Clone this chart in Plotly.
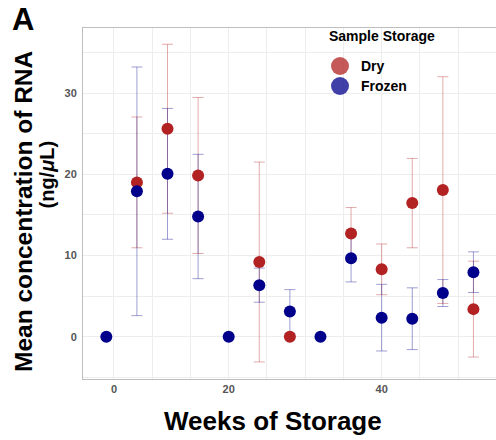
import plotly.graph_objects as go

# ---- data ----
weeks = [4, 8, 12, 16, 20, 24, 28, 32, 36, 40, 44, 48, 52]
dry_mean = [None, 19.0, 25.6, 19.85, None, 9.2, 0.0, None, 12.7, 8.3, 16.45, 18.05, 3.4]
dry_err = [0, 8.05, 10.4, 9.6, 0, 12.3, 0, 0, 3.2, 3.12, 5.5, 13.95, 5.9]
frozen_mean = [0.0, 17.9, 20.05, 14.8, 0.0, 6.35, 3.1, 0.0, 9.65, 2.35, 2.22, 5.38, 7.95]
frozen_err = [0, 15.3, 8.05, 7.65, 0, 2.1, 2.7, 0, 2.9, 4.1, 3.8, 1.66, 2.5]

x_tickvals = [5, 20, 40]
x_ticktext = ["0", "20", "40"]
y_tickvals = [0, 10, 20, 30]

legend_labels = ["Dry", "Frozen"]
legend_colors = ["rgba(178,34,34,0.75)", "rgba(0,0,139,0.75)"]

DRY = "#B22222"
FROZEN = "#00008B"
FONT = "Liberation Sans, Arial, Helvetica, sans-serif"

fig = go.Figure()

# error bars first (both series), then dots
fig.add_trace(go.Scatter(
    x=weeks, y=dry_mean, mode="markers",
    marker=dict(size=11, color="rgba(0,0,0,0)"),
    error_y=dict(type="data", array=dry_err, visible=True,
                 color="rgba(178,34,34,0.38)", thickness=1, width=5.5),
    showlegend=False, hoverinfo="skip"))
fig.add_trace(go.Scatter(
    x=weeks, y=frozen_mean, mode="markers",
    marker=dict(size=11, color="rgba(0,0,0,0)"),
    error_y=dict(type="data", array=frozen_err, visible=True,
                 color="rgba(0,0,139,0.38)", thickness=1, width=5.5),
    showlegend=False, hoverinfo="skip"))
fig.add_trace(go.Scatter(
    x=weeks, y=dry_mean, mode="markers", name="Dry",
    marker=dict(size=12, color=DRY, line=dict(width=0)),
    showlegend=False))
fig.add_trace(go.Scatter(
    x=weeks, y=frozen_mean, mode="markers", name="Frozen",
    marker=dict(size=12, color=FROZEN, line=dict(width=0)),
    showlegend=False))

# plot-area pixel geometry
L, T, R, B = 83, 28, 496, 379
W, H = 496, 440
pw, ph = R - L, B - T


def px(x):
    return (x - L) / pw


def py(y):
    return (B - y) / ph


annotations = []
shapes = []

# panel label
annotations.append(dict(text="<b>A</b>", x=px(23), y=py(20), xref="paper", yref="paper",
                        xanchor="center", yanchor="middle", showarrow=False,
                        font=dict(size=31, color="black", family=FONT)))
# axis titles
annotations.append(dict(text="<b>Weeks of Storage</b>", x=px(272.5), y=py(421),
                        xref="paper", yref="paper", xanchor="center", yanchor="middle",
                        showarrow=False, font=dict(size=26, color="black", family=FONT)))
annotations.append(dict(text="<b>Mean concentration of RNA</b>", x=px(24), y=py(211),
                        xref="paper", yref="paper", xanchor="center", yanchor="middle",
                        textangle=-90, showarrow=False,
                        font=dict(size=24.5, color="black", family=FONT)))
annotations.append(dict(text="<b>(ng/<i>μ</i>L)</b>", x=px(46), y=py(174.5),
                        xref="paper", yref="paper", xanchor="center", yanchor="middle",
                        textangle=-90, showarrow=False,
                        font=dict(size=20, color="black", family=FONT)))

# manual legend
annotations.append(dict(text="<b>Sample Storage</b>", x=px(327), y=py(36),
                        xref="paper", yref="paper", xanchor="left", yanchor="middle",
                        showarrow=False, font=dict(size=14, color="black", family=FONT)))
leg_y = [66, 86]
for lab, col, yy in zip(legend_labels, legend_colors, leg_y):
    shapes.append(dict(type="circle", xref="paper", yref="paper",
                       xsizemode="pixel", ysizemode="pixel",
                       xanchor=px(340), yanchor=py(yy),
                       x0=-9, x1=9, y0=-9, y1=9,
                       fillcolor=col, line=dict(width=0)))
    annotations.append(dict(text="<b>%s</b>" % lab, x=px(359), y=py(yy),
                            xref="paper", yref="paper", xanchor="left", yanchor="middle",
                            showarrow=False, font=dict(size=14, color="black", family=FONT)))

fig.update_layout(
    width=W, height=H,
    margin=dict(l=L, r=W - R, t=T, b=H - B, pad=0),
    paper_bgcolor="white", plot_bgcolor="white",
    font=dict(family=FONT),
    annotations=annotations, shapes=shapes,
    showlegend=False,
)
fig.update_xaxes(
    range=[0.95, 54.95], tickvals=x_tickvals, ticktext=x_ticktext,
    showgrid=True, gridcolor="#EDEDED", gridwidth=1,
    minor=dict(dtick=5, tick0=0, showgrid=True, gridcolor="#EDEDED", gridwidth=1),
    showline=True, linecolor="#BEBEBE", linewidth=1, mirror=True,
    ticks="outside", ticklen=0, tickcolor="rgba(0,0,0,0)",
    tickfont=dict(size=11, color="#555555", family=FONT, weight="bold"),
    zeroline=False,
)
fig.update_yaxes(
    range=[-5.2, 38.0], tickvals=y_tickvals,
    showgrid=True, gridcolor="#EDEDED", gridwidth=1,
    minor=dict(dtick=5, tick0=0, showgrid=True, gridcolor="#EDEDED", gridwidth=1),
    showline=True, linecolor="#BEBEBE", linewidth=1, mirror=True,
    ticks="outside", ticklen=3, tickcolor="rgba(0,0,0,0)",
    tickfont=dict(size=11, color="#555555", family=FONT, weight="bold"),
    zeroline=False,
)

fig.write_html("out.html")
